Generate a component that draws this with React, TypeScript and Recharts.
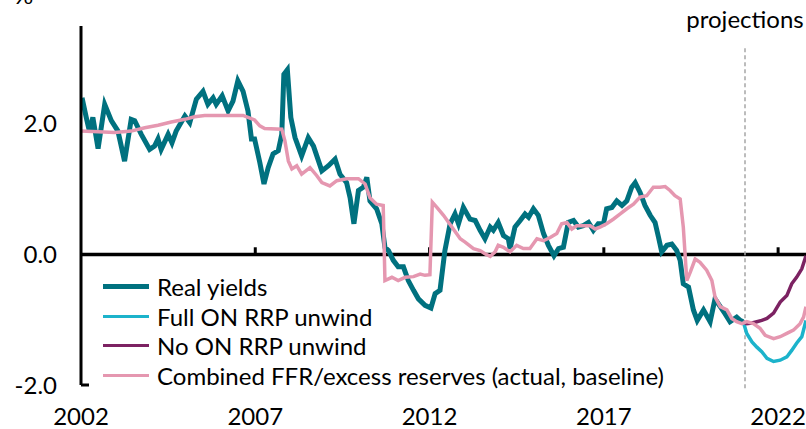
import React from 'react';
import { LineChart, Line, XAxis, YAxis, ReferenceLine, Label } from 'recharts';

// real yields (history only)
const realYears = [
  2002.03, 2002.15, 2002.25, 2002.34, 2002.49, 2002.68, 2002.87, 2003.06, 2003.25, 2003.44,
  2003.54, 2003.73, 2003.97, 2004.11, 2004.21, 2004.3, 2004.5, 2004.61, 2004.73, 2004.98,
  2005.12, 2005.31, 2005.5, 2005.64, 2005.79, 2005.88, 2006.05, 2006.22, 2006.36, 2006.5,
  2006.65, 2006.79, 2006.89, 2006.98, 2007.13, 2007.25, 2007.37, 2007.51, 2007.66, 2007.76,
  2007.82, 2007.92, 2008.02, 2008.14, 2008.33, 2008.52, 2008.67, 2008.91, 2009.1, 2009.29,
  2009.43, 2009.62, 2009.72, 2009.83, 2009.96, 2010.1, 2010.2, 2010.29, 2010.48, 2010.63,
  2010.72, 2010.82, 2010.96, 2011.1, 2011.25, 2011.39, 2011.54, 2011.68, 2011.87, 2012.04,
  2012.16, 2012.3, 2012.44, 2012.59, 2012.73, 2012.83, 2012.97, 2013.16, 2013.31, 2013.45,
  2013.59, 2013.74, 2013.83, 2013.97, 2014.12, 2014.26, 2014.31, 2014.45, 2014.6, 2014.74,
  2014.84, 2014.98, 2015.12, 2015.27, 2015.41, 2015.57, 2015.7, 2015.84, 2015.98, 2016.13,
  2016.27, 2016.41, 2016.56, 2016.7, 2016.84, 2016.99, 2017.08, 2017.23, 2017.37, 2017.52,
  2017.66, 2017.8, 2017.9, 2018.04, 2018.18, 2018.33, 2018.47, 2018.57, 2018.66, 2018.81,
  2018.95, 2019.09, 2019.19, 2019.28, 2019.43, 2019.57, 2019.68, 2019.86, 2020.05, 2020.19,
  2020.34, 2020.48, 2020.62, 2020.81, 2020.91, 2021.0,
];
const realValues = [
  2.4, 2.1, 1.87, 2.1, 1.62, 2.3, 2.05, 1.89, 1.43, 2.07,
  2.05, 1.84, 1.61, 1.66, 1.77, 1.61, 1.84, 1.71, 1.89, 2.12,
  2.02, 2.38, 2.5, 2.3, 2.4, 2.3, 2.43, 2.2, 2.35, 2.66,
  2.5, 2.2, 1.77, 1.77, 1.41, 1.08, 1.33, 1.54, 1.59, 1.84,
  2.76, 2.83, 2.1, 1.79, 1.51, 1.79, 1.66, 1.28, 1.36, 1.46,
  1.23, 1.1, 0.87, 0.47, 0.98, 1.03, 1.18, 0.82, 0.7, 0.47,
  0.11, 0.06, -0.09, -0.19, -0.19, -0.4, -0.55, -0.68, -0.78, -0.82,
  -0.6, -0.55, 0.06, 0.47, 0.62, 0.47, 0.72, 0.54, 0.52, 0.37,
  0.24, 0.42, 0.37, 0.49, 0.29, 0.24, 0.09, 0.42, 0.52, 0.62,
  0.57, 0.7, 0.6, 0.32, 0.14, -0.02, 0.09, 0.11, 0.49, 0.52,
  0.42, 0.44, 0.49, 0.37, 0.47, 0.47, 0.7, 0.72, 0.82, 0.75,
  0.82, 1.03, 1.1, 0.95, 0.75, 0.6, 0.49, 0.26, 0.04, 0.14,
  0.16, 0.06, -0.09, -0.45, -0.5, -0.85, -1.01, -0.85, -1.03, -0.68,
  -0.8, -0.91, -1.03, -0.96, -1.01, -1.03,
];

// combined FFR/excess reserves (actual, baseline)
const combinedYears = [
  2002.0, 2002.49, 2002.97, 2003.44, 2003.83, 2004.21, 2004.59, 2004.98, 2005.26, 2005.55,
  2006.12, 2006.65, 2006.79, 2006.98, 2007.13, 2007.27, 2007.76, 2007.85, 2007.95, 2008.05,
  2008.19, 2008.33, 2008.57, 2008.76, 2008.91, 2009.14, 2009.34, 2009.62, 2009.96, 2010.15,
  2010.29, 2010.48, 2010.67, 2010.72, 2010.92, 2011.1, 2011.3, 2011.54, 2011.73, 2011.87,
  2012.01, 2012.08, 2012.21, 2012.4, 2012.64, 2012.88, 2013.02, 2013.26, 2013.45, 2013.59,
  2013.74, 2013.88, 2013.97, 2014.12, 2014.31, 2014.5, 2014.69, 2014.88, 2015.08, 2015.27,
  2015.46, 2015.65, 2015.79, 2015.94, 2016.08, 2016.22, 2016.41, 2016.61, 2016.75, 2016.89,
  2017.08, 2017.27, 2017.47, 2017.66, 2017.85, 2018.04, 2018.23, 2018.42, 2018.61, 2018.76,
  2018.9, 2019.04, 2019.19, 2019.28, 2019.38, 2019.48, 2019.62, 2019.76, 2019.95, 2020.1,
  2020.19, 2020.34, 2020.53, 2020.67, 2020.81, 2020.96, 2021.1, 2021.29, 2021.48, 2021.63,
  2021.87, 2022.06, 2022.25, 2022.44, 2022.63, 2022.73, 2022.8,
];
const combinedValues = [
  1.89, 1.88, 1.87, 1.89, 1.94, 1.98, 2.03, 2.07, 2.11, 2.13,
  2.13, 2.13, 2.1, 2.06, 1.97, 1.93, 1.92, 1.74, 1.43, 1.31,
  1.36, 1.23, 1.33, 1.21, 1.1, 1.05, 1.13, 1.16, 1.16, 1.08,
  0.87, 0.77, 0.75, -0.4, -0.35, -0.4, -0.35, -0.34, -0.3, -0.32,
  -0.31, 0.8, 0.72, 0.6, 0.42, 0.24, 0.19, 0.09, 0.06, 0.01,
  -0.03, 0.04, 0.14, 0.11, 0.04, 0.14, 0.09, 0.09, 0.24, 0.21,
  0.26, 0.32, 0.47, 0.49, 0.39, 0.44, 0.44, 0.44, 0.39, 0.42,
  0.47, 0.54, 0.62, 0.7, 0.77, 0.88, 0.9, 1.03, 1.03, 1.04,
  0.98, 0.9, 0.85, 0.42, -0.4, -0.27, -0.07, -0.12, -0.24, -0.4,
  -0.65, -0.8, -0.85, -0.98, -1.03, -1.06, -1.03, -1.06, -1.13, -1.24,
  -1.29, -1.26, -1.21, -1.16, -1.06, -0.96, -0.8,
];

// projection scenarios
const projYears = [
  2021.0, 2021.1, 2021.25, 2021.39, 2021.53, 2021.68, 2021.87, 2022.06, 2022.25, 2022.39,
  2022.53, 2022.68, 2022.8,
];
const fullUnwindValues = [
  -1.03, -1.21, -1.34, -1.42, -1.49, -1.59, -1.64, -1.62, -1.57, -1.47,
  -1.36, -1.26, -1.01,
];
const noUnwindValues = [
  -1.03, -1.06, -1.05, -1.03, -1.01, -0.98, -0.9, -0.73, -0.63, -0.45,
  -0.35, -0.22, -0.02,
];

const xTicks = [2002, 2007, 2012, 2017, 2022];
const yTicks = [-2, 0, 2];
const projectionStart = 2021.05;

const COLORS = {
  real: '#00717f',
  full: '#1cb3cb',
  none: '#7c2262',
  combined: '#e597b0',
};

const legendItems = [
  { name: 'Real yields', color: COLORS.real, width: 5 },
  { name: 'Full ON RRP unwind', color: COLORS.full, width: 3 },
  { name: 'No ON RRP unwind', color: COLORS.none, width: 3 },
  { name: 'Combined FFR/excess reserves (actual, baseline)', color: COLORS.combined, width: 3 },
];

const toPoints = (years: number[], values: number[]) => years.map((t, i) => ({ t, v: values[i] }));

const realData = toPoints(realYears, realValues);
const combinedData = toPoints(combinedYears, combinedValues);
const fullData = toPoints(projYears, fullUnwindValues);
const noneData = toPoints(projYears, noUnwindValues);

const FONT = 'Lato, "Open Sans", sans-serif';
const FS = 24;

export default function App() {
  return (
    <div style={{ position: 'absolute', left: 0, top: 0, width: 806, height: 429, background: '#fff', fontFamily: FONT, overflow: 'hidden' }}>
      <LineChart width={806} height={429} margin={{ top: 26, right: 0, left: 0, bottom: 14 }}>
        <XAxis
          type="number"
          dataKey="t"
          domain={[2002, 2022.8]}
          ticks={xTicks}
          height={30}
          allowDataOverflow
          axisLine={false}
          tickLine={false}
          tickMargin={17}
          tick={{ fill: '#000', fontSize: FS, fontFamily: FONT }}
        />
        <YAxis
          type="number"
          domain={[-2, 3.5]}
          ticks={yTicks}
          width={81}
          allowDataOverflow
          axisLine={{ stroke: '#000', strokeWidth: 3 }}
          tickLine={false}
          tickMargin={18}
          tickFormatter={(v: number) => v.toFixed(1)}
          tick={{ fill: '#000', fontSize: FS, fontFamily: FONT }}
        />
        <ReferenceLine y={0} stroke="#000" strokeWidth={3.5} />
        {xTicks.slice(1).map((t) => (
          <ReferenceLine key={t} segment={[{ x: t, y: 0 }, { x: t, y: 0.11 }]} stroke="#000" strokeWidth={3} />
        ))}
        <ReferenceLine segment={[{ x: 2002, y: -2 }, { x: 2002.23, y: -2 }]} stroke="#000" strokeWidth={3} />
        <ReferenceLine
          segment={[{ x: projectionStart, y: -2.05 }, { x: projectionStart, y: 3.2 }]}
          stroke="#a6a6a6"
          strokeWidth={1.5}
          strokeDasharray="4 3"
          ifOverflow="visible"
        >
          <Label value="projections" position="top" offset={18} fill="#000" fontSize={FS} fontFamily={FONT} />
        </ReferenceLine>
        <Line data={realData} dataKey="v" name="Real yields" stroke={COLORS.real} strokeWidth={5} dot={false} isAnimationActive={false} />
        <Line data={fullData} dataKey="v" name="Full ON RRP unwind" stroke={COLORS.full} strokeWidth={3.5} dot={false} isAnimationActive={false} />
        <Line data={noneData} dataKey="v" name="No ON RRP unwind" stroke={COLORS.none} strokeWidth={3.5} dot={false} isAnimationActive={false} />
        <Line data={combinedData} dataKey="v" name="Combined FFR/excess reserves (actual, baseline)" stroke={COLORS.combined} strokeWidth={3.5} dot={false} isAnimationActive={false} />
      </LineChart>
      <div style={{ position: 'absolute', left: 14, top: -17, fontSize: FS, lineHeight: '24px' }}>%</div>
      <div style={{ position: 'absolute', left: 103, top: 272, fontSize: FS, color: '#000' }}>
        {legendItems.map((item) => (
          <div key={item.name} style={{ display: 'flex', alignItems: 'center', height: 29.5 }}>
            <div style={{ width: 46, height: item.width, background: item.color, marginRight: 8 }} />
            <span style={{ whiteSpace: 'nowrap', lineHeight: '29px' }}>{item.name}</span>
          </div>
        ))}
      </div>
    </div>
  );
}
